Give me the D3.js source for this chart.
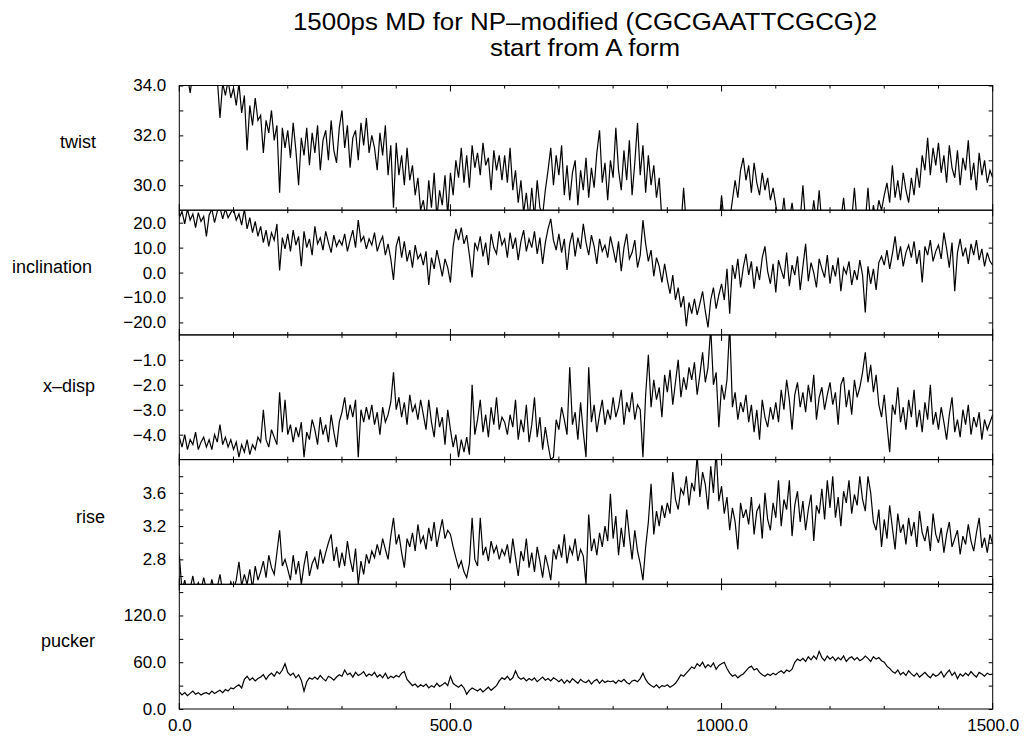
<!DOCTYPE html>
<html>
<head>
<meta charset="utf-8">
<script src="https://cdn.jsdelivr.net/npm/d3@7"></script>
<style>
  body { margin: 0; background: #fff; }
  text { font-family: "Liberation Sans", Arial, Helvetica, sans-serif; fill: #000; }
</style>
</head>
<body>
<div id="wrapper"></div>
<script>
// time axis: one sample every 5 ps, 0 .. 1500
const timeStep = 5
const xTicksLabelled = [0, 500, 1000, 1500]

const twist = [
  34.6,34.5,34.7,34.4,33.7,34.5,34.6,34.5,34.7,34.6,
  34.5,34.6,34.4,34.5,34.3,32.7,34.1,33.6,34.2,33.5,
  33.9,33.2,34.1,32.9,33.6,31.4,33.2,32.4,33.5,32.6,
  32.8,31.3,32.6,32.1,33.0,31.8,32.4,29.7,32.3,31.5,
  32.2,31.1,32.5,31.4,30.0,31.9,31.2,32.3,30.8,32.1,
  31.3,32.4,30.6,31.8,32.2,31.0,32.6,31.4,30.9,32.3,
  33.0,31.5,32.4,30.7,31.9,32.2,31.0,32.5,31.6,32.7,
  31.3,32.0,31.5,30.6,32.1,31.2,32.4,30.4,31.6,29.1,
  31.7,30.4,31.2,30.0,31.5,30.2,30.8,29.6,30.3,29.0,
  29.4,28.6,30.2,29.1,30.5,28.7,29.8,29.2,30.4,28.8,
  30.5,29.6,31.0,30.3,31.5,30.1,31.2,29.9,31.6,30.7,
  31.3,30.4,31.7,30.8,31.1,29.8,31.4,30.6,31.2,30.2,
  31.2,30.1,31.5,29.8,30.6,29.3,30.2,28.9,29.7,28.6,
  29.9,28.7,30.2,29.1,28.8,29.8,30.6,31.5,30.0,31.2,
  30.4,31.6,29.6,30.8,29.4,30.5,31.0,29.2,30.6,29.8,
  31.1,29.5,30.7,29.9,31.3,32.2,30.1,30.9,29.4,31.0,
  30.3,32.3,30.6,29.8,31.4,30.2,31.8,29.6,30.9,32.5,
  30.4,31.6,29.7,31.2,30.0,30.8,29.5,30.3,28.6,28.4,
  28.5,28.3,28.6,28.4,28.5,28.3,29.9,28.4,28.5,28.3,
  28.4,28.5,28.3,28.6,28.4,28.3,28.5,28.4,28.6,28.3,
  29.6,28.5,28.4,28.6,29.4,30.2,29.5,30.6,31.1,30.2,
  30.8,29.7,30.9,30.1,29.6,30.5,29.8,30.3,29.4,29.9,
  29.2,28.6,28.5,29.5,28.4,28.6,29.3,28.5,28.4,28.6,
  30.0,28.5,28.6,28.4,29.4,28.5,29.8,28.4,28.6,28.5,
  28.4,28.6,28.5,28.4,28.6,29.5,28.4,28.5,28.6,29.9,
  28.5,28.4,28.6,28.5,29.9,28.4,29.2,28.6,29.4,29.0,
  29.6,30.1,29.3,30.8,29.5,30.2,29.4,30.5,29.8,29.3,
  30.3,29.6,30.7,29.9,31.2,30.6,31.9,30.4,31.5,30.8,
  31.7,30.5,31.2,30.1,31.6,30.7,30.3,31.4,30.0,31.1,
  30.6,31.8,30.2,30.9,29.8,31.3,30.4,31.0,30.1,30.6,
  30.3
]

const inclination = [
  22.0,24.5,19.5,25.5,21.0,23.5,18.0,24.0,20.5,22.5,
  14.5,23.0,25.5,20.0,24.5,26.0,21.5,25.5,22.0,24.0,
  25.5,21.0,23.5,19.0,25.5,17.5,22.0,16.0,20.5,14.5,
  18.5,12.0,17.0,10.5,16.0,13.0,19.5,0.8,14.0,9.5,
  15.5,8.5,17.0,11.0,14.5,2.5,16.5,10.0,13.5,7.0,
  18.5,11.5,14.0,9.0,16.5,12.0,8.0,15.0,10.5,13.0,
  11.0,15.5,8.5,13.0,17.0,10.0,21.0,12.5,14.5,9.5,
  13.5,11.0,16.0,8.5,12.0,14.5,7.0,11.5,5.5,-3.0,
  10.5,14.5,6.0,12.5,4.5,9.0,2.0,11.0,5.5,7.5,
  3.0,8.5,-5.0,6.0,1.5,9.0,4.0,-1.5,5.5,2.0,
  -4.0,10.5,17.5,13.0,18.0,11.5,15.0,7.0,-2.0,12.0,
  9.0,14.5,6.5,12.0,3.0,15.5,10.0,7.5,16.5,11.0,
  13.5,6.0,16.0,9.5,14.0,5.0,12.5,17.0,8.5,13.5,
  10.0,16.5,7.5,14.0,3.5,12.0,17.5,21.5,13.0,9.0,
  15.5,8.0,13.5,1.0,11.5,16.0,6.5,14.0,9.5,19.5,
  12.0,7.0,15.0,10.5,3.5,13.5,8.5,11.0,6.0,14.5,
  9.5,4.0,12.5,0.5,10.0,15.5,5.5,8.0,13.0,2.0,
  7.0,21.0,11.5,4.5,9.0,-1.5,6.0,2.5,-4.0,3.5,
  -3.0,-8.5,-1.0,-11.0,-6.0,-14.0,-9.5,-21.5,-12.0,-16.5,
  -10.5,-17.0,-12.5,-7.5,-15.5,-22.0,-11.0,-6.0,-14.5,-9.0,
  -4.5,-11.0,1.5,-16.5,3.0,-2.5,5.5,-6.0,2.0,7.5,
  -1.0,4.5,-6.5,2.5,-3.0,6.0,10.5,0.5,-4.5,3.5,
  -8.0,5.0,1.0,-2.5,8.0,-5.5,3.0,-1.0,6.5,-7.0,
  2.5,11.5,-3.5,4.0,0.0,-6.0,5.5,1.5,-2.0,7.0,
  -4.5,3.0,-1.5,6.0,-7.5,2.0,-0.5,4.5,-5.0,1.0,
  -3.0,5.0,-1.0,-16.0,2.5,-4.5,1.5,-7.0,4.0,6.5,
  3.0,9.0,1.5,7.5,14.5,5.0,10.5,2.5,8.0,11.0,
  6.0,12.5,3.5,9.0,-4.0,10.5,7.0,13.0,4.5,8.5,
  11.0,5.5,16.0,9.5,2.0,12.0,-7.5,8.0,13.5,6.5,
  10.0,3.5,11.5,7.0,13.0,5.0,9.5,2.5,8.0,4.5,
  3.0
]

const xDisp = [
  -4.1,-4.5,-4.0,-4.6,-4.2,-4.4,-3.9,-4.6,-4.3,-4.1,
  -4.5,-4.2,-4.6,-4.0,-4.3,-3.6,-4.4,-4.1,-4.5,-4.2,
  -4.6,-4.3,-4.9,-4.4,-4.7,-4.2,-4.8,-4.4,-4.6,-4.1,
  -4.3,-3.0,-4.2,-4.5,-3.8,-4.1,-4.4,-2.3,-3.9,-2.6,
  -4.0,-3.6,-4.3,-3.7,-4.1,-3.5,-4.9,-3.9,-4.2,-3.4,
  -3.8,-4.4,-3.3,-4.0,-3.6,-4.3,-3.2,-3.9,-4.5,-3.5,
  -3.1,-2.5,-3.4,-2.8,-3.3,-2.6,-4.9,-3.0,-3.5,-2.9,
  -3.4,-2.8,-3.6,-3.1,-4.0,-2.9,-3.5,-3.2,-2.7,-1.5,
  -3.0,-2.5,-3.3,-2.7,-3.6,-2.4,-3.1,-2.8,-3.4,-2.6,
  -3.2,-3.8,-2.6,-3.5,-4.1,-2.9,-3.7,-3.3,-4.4,-3.0,
  -3.8,-4.5,-4.0,-4.9,-4.2,-4.7,-4.1,-4.8,-2.0,-4.0,
  -3.4,-2.6,-3.9,-3.2,-4.1,-2.9,-3.6,-2.5,-3.8,-3.3,
  -3.5,-4.0,-3.2,-3.7,-2.6,-4.2,-3.4,-3.9,-2.8,-4.3,
  -3.6,-2.5,-4.1,-3.3,-4.6,-3.7,-4.4,-5.0,-4.9,-3.4,
  -3.8,-2.9,-3.4,-4.0,-1.3,-3.6,-3.1,-4.2,-2.7,-3.9,
  -4.9,-1.3,-3.5,-2.8,-3.9,-3.2,-2.6,-3.6,-3.0,-3.4,
  -2.5,-3.3,-2.9,-2.2,-3.6,-2.7,-3.1,-2.3,-3.4,-2.8,
  -3.0,-4.9,-2.4,-0.8,-2.9,-1.8,-2.6,-2.1,-3.3,-1.6,
  -2.3,-1.4,-2.8,-1.9,-1.0,-2.5,-1.7,-2.2,-1.3,-1.8,
  -1.1,-2.4,-1.6,-0.7,-1.9,-1.3,0.3,-2.0,-1.5,-3.7,
  -2.0,-2.6,-1.8,0.4,-2.9,-2.3,-3.4,-2.7,-3.1,-2.4,
  -3.5,-2.8,-3.9,-3.0,-4.2,-2.6,-3.3,-3.7,-2.9,-3.4,
  -2.7,-3.5,-2.2,-3.0,-1.8,-2.6,-3.8,-2.4,-1.9,-2.9,
  -2.3,-3.1,-2.0,-2.7,-1.6,-3.4,-2.5,-2.1,-3.0,-2.4,
  -1.9,-2.8,-2.3,-3.6,-2.0,-1.7,-2.9,-2.2,-3.2,-1.8,
  -2.5,-2.1,-1.5,-0.7,-1.9,-1.2,-2.3,-1.6,-2.8,-3.3,
  -2.4,-3.6,-4.7,-2.8,-3.2,-2.1,-3.5,-2.9,-3.8,-2.6,
  -3.3,-2.2,-3.7,-3.0,-3.9,-2.7,-3.4,-2.0,-3.6,-3.1,
  -3.8,-2.9,-3.5,-4.2,-3.2,-2.5,-3.9,-3.4,-4.1,-3.0,
  -3.6,-2.8,-4.0,-3.3,-3.7,-3.1,-4.2,-3.4,-3.8,-3.5,
  -3.2
]

const rise = [
  2.85,2.42,2.55,2.40,2.45,2.60,2.41,2.52,2.43,2.58,
  2.44,2.40,2.56,2.42,2.46,2.62,2.41,2.45,2.40,2.53,
  2.43,2.55,2.77,2.48,2.62,2.50,2.68,2.45,2.72,2.55,
  2.65,2.78,2.58,2.85,2.70,2.62,2.88,3.15,2.72,2.80,
  2.68,2.55,2.85,2.62,2.78,2.50,2.73,2.90,2.60,2.75,
  2.82,2.68,2.92,2.75,2.88,3.00,3.10,2.78,2.95,2.70,
  2.88,2.72,3.02,2.80,2.65,2.93,2.50,2.78,2.62,2.86,
  2.75,2.90,2.82,2.98,2.85,3.05,2.92,2.80,3.08,3.30,
  2.98,3.10,2.88,2.70,3.05,2.95,3.12,2.90,3.22,3.00,
  3.08,2.92,3.18,3.02,3.25,2.95,3.12,3.28,3.05,3.15,
  3.10,2.95,2.82,2.70,2.78,2.65,2.58,2.75,3.30,2.80,
  2.72,3.30,2.85,2.95,2.78,3.02,2.88,2.96,2.80,2.92,
  2.85,2.98,2.75,3.05,2.82,2.60,2.90,2.78,3.05,2.70,
  2.88,2.65,2.95,2.78,2.58,2.85,2.72,2.55,2.92,2.80,
  2.98,2.82,3.10,2.75,2.95,2.86,3.05,2.78,2.92,2.84,
  2.50,3.34,2.90,3.05,2.85,3.12,2.95,3.20,3.02,3.59,
  3.05,3.32,2.85,3.18,2.95,3.40,3.08,2.80,3.15,2.90,
  2.75,2.55,2.95,3.25,3.71,3.10,3.38,3.20,3.45,3.30,
  3.48,3.35,3.85,3.52,3.40,3.65,3.58,3.80,3.45,3.72,
  3.62,4.05,3.55,3.85,3.70,3.40,3.92,3.60,4.10,3.50,
  3.68,3.35,3.55,3.15,3.42,3.25,2.92,3.48,3.30,3.40,
  3.22,3.55,3.10,3.38,3.45,3.05,3.60,3.28,3.15,3.48,
  3.30,3.75,3.20,3.52,3.40,3.75,3.08,3.45,3.62,3.25,
  3.50,3.15,3.40,3.58,3.02,3.45,3.35,3.65,3.28,3.75,
  3.42,3.80,3.30,3.55,3.20,3.62,3.48,3.75,3.35,3.58,
  3.45,3.80,3.52,3.38,3.80,3.60,3.25,3.15,3.40,2.95,
  3.28,3.05,3.45,3.18,2.92,3.35,3.12,3.22,2.98,3.30,
  3.08,3.25,2.95,3.38,3.12,3.02,3.20,2.90,3.35,3.10,
  3.00,3.18,2.88,3.10,3.25,2.95,3.05,3.15,2.86,3.08,
  2.98,3.22,3.02,2.90,3.12,3.30,2.94,3.06,2.88,3.10,
  2.98
]

const pucker = [
  22,18,21,17,20,23,19,21,18,20,
  21,19,23,20,22,24,21,25,23,27,
  26,29,31,27,38,42,37,40,36,39,
  41,44,38,43,46,42,48,45,50,58,
  47,43,46,40,44,37,23,35,40,38,
  41,38,43,39,36,42,40,37,41,44,
  42,50,44,46,41,47,43,45,48,42,
  45,43,47,41,44,40,46,39,42,40,
  43,41,46,48,38,34,30,32,28,31,
  29,32,27,30,28,33,29,31,34,30,
  42,33,30,28,31,27,19,24,27,25,
  23,26,22,25,28,24,27,30,36,40,
  38,42,37,40,49,41,38,40,36,39,
  37,40,35,38,41,37,39,36,40,38,
  35,38,33,37,34,39,36,33,38,35,
  34,37,32,36,38,33,37,34,36,35,
  36,33,37,35,38,34,32,36,37,35,
  39,46,38,33,30,28,31,27,30,29,
  31,28,30,33,38,44,42,46,50,54,
  52,58,55,60,53,57,54,59,51,56,
  58,60,52,46,42,44,40,43,45,49,
  53,55,50,52,47,44,42,45,43,46,
  44,47,49,46,50,48,51,60,64,62,
  65,61,67,63,68,64,74,66,62,68,
  64,67,62,66,63,68,61,65,67,63,
  66,62,64,68,65,61,67,64,66,62,
  60,55,52,48,46,50,44,47,43,49,
  45,42,46,41,44,47,43,40,45,42,
  44,48,41,46,50,43,47,39,45,42,
  46,43,48,44,41,47,45,42,46,44,
  45
]

// y domains and tick values per panel
const twistDomain = [29, 34]
const twistTicks = [30, 32, 34]
const twistMinor = [31, 33]
const inclinationDomain = [-25, 25]
const inclinationTicks = [-20, -10, 0, 10, 20]
const xDispDomain = [-5, 0]
const xDispTicks = [-4, -3, -2, -1]
const riseDomain = [2.5, 4.0]
const riseTicks = [2.8, 3.2, 3.6]
const riseMinor = [2.6, 3.0, 3.4, 3.8]
const puckerDomain = [0, 160]
const puckerTicks = [0, 60, 120]
const puckerMinor = [30, 90, 150]

const titleLines = ["1500ps MD for NP\u2013modified (CGCGAATTCGCG)2", "start from A form"]

function drawChart() {
  // 1. panels
  const panels = [
    { name: "twist", values: twist, domain: twistDomain, ticks: twistTicks, minor: twistMinor, labelX: 60, labelDy: 56 },
    { name: "inclination", values: inclination, domain: inclinationDomain, ticks: inclinationTicks, minor: [], labelX: 12, labelDy: 57 },
    { name: "x\u2013disp", values: xDisp, domain: xDispDomain, ticks: xDispTicks, minor: [], labelX: 43, labelDy: 51 },
    { name: "rise", values: rise, domain: riseDomain, ticks: riseTicks, minor: riseMinor, labelX: 76, labelDy: 57 },
    { name: "pucker", values: pucker, domain: puckerDomain, ticks: puckerTicks, minor: puckerMinor, labelX: 41, labelDy: 57 },
  ]

  // 2. dimensions
  let dimensions = {
    width: 1026,
    height: 736,
    left: 179.3,
    right: 992.7,
    top: 85.5,
    panelHeight: 124.7,
  }
  const bottom = dimensions.top + dimensions.panelHeight * panels.length

  // 3. canvas
  const wrapper = d3.select("#wrapper")
    .append("svg")
      .attr("width", dimensions.width)
      .attr("height", dimensions.height)

  // title, slightly wide like the original print
  wrapper.selectAll(".title")
    .data(titleLines)
    .join("text")
      .attr("class", "title")
      .attr("transform", (d, i) => `translate(585,${i === 0 ? 30 : 56}) scale(1.08,1)`)
      .attr("text-anchor", "middle")
      .style("font-size", "24px")
      .text(d => d)

  const xScale = d3.scaleLinear()
    .domain([0, 1500])
    .range([dimensions.left, dimensions.right])

  const fmt = d3.format(".1f")

  panels.forEach((p, i) => {
    const top = dimensions.top + i * dimensions.panelHeight
    const yScale = d3.scaleLinear()
      .domain(p.domain)
      .range([top + dimensions.panelHeight, top])

    const clipId = "clip-" + i
    wrapper.append("clipPath")
        .attr("id", clipId)
      .append("rect")
        .attr("x", dimensions.left)
        .attr("y", top)
        .attr("width", dimensions.right - dimensions.left)
        .attr("height", dimensions.panelHeight)

    const lineGenerator = d3.line()
      .x((d, j) => xScale(j * timeStep))
      .y(d => yScale(d))

    wrapper.append("path")
        .datum(p.values)
        .attr("clip-path", `url(#${clipId})`)
        .attr("d", lineGenerator)
        .attr("fill", "none")
        .attr("stroke", "#000")
        .attr("stroke-width", 1.2)
        .attr("stroke-linejoin", "miter")

    // left axis with labels, ticks inward
    const leftAxis = wrapper.append("g")
        .attr("transform", `translate(${dimensions.left},0)`)
        .call(d3.axisLeft(yScale).tickValues(p.ticks).tickSize(-4).tickPadding(13).tickFormat(fmt))
    wrapper.append("g")
        .attr("transform", `translate(${dimensions.left},0)`)
        .call(d3.axisLeft(yScale).tickValues(p.minor).tickSize(-4).tickFormat(""))
    wrapper.append("g")
        .attr("transform", `translate(${dimensions.right},0)`)
        .call(d3.axisRight(yScale).tickValues(p.ticks.concat(p.minor)).tickSize(-4).tickFormat(""))

    leftAxis.selectAll("text")
        .style("font-size", "17px")
        .style("font-family", '"Liberation Sans", Arial, sans-serif')

    wrapper.append("text")
        .attr("x", p.labelX)
        .attr("y", top + p.labelDy)
        .attr("dominant-baseline", "central")
        .style("font-size", "18px")
        .text(p.name)
  })

  wrapper.selectAll(".domain").remove()
  wrapper.selectAll(".tick line").attr("stroke", "#000")

  // panel frames
  panels.forEach((p, i) => {
    wrapper.append("rect")
        .attr("x", dimensions.left)
        .attr("y", dimensions.top + i * dimensions.panelHeight)
        .attr("width", dimensions.right - dimensions.left)
        .attr("height", dimensions.panelHeight)
        .attr("fill", "none")
        .attr("stroke", "#000")
        .attr("stroke-width", 1)
  })

  // time ticks on every panel border
  const timeTicks = d3.range(0, 1501, 100)
  d3.range(panels.length + 1).forEach(k => {
    const y = dimensions.top + k * dimensions.panelHeight
    const up = k === 0 ? 0 : 1
    const down = k === panels.length ? 0 : 1
    wrapper.append("g")
      .selectAll("line")
      .data(timeTicks)
      .join("line")
        .attr("x1", d => xScale(d))
        .attr("x2", d => xScale(d))
        .attr("y1", d => y - up * (d % 500 === 0 ? 6 : 3))
        .attr("y2", d => y + down * (d % 500 === 0 ? 6 : 3))
        .attr("stroke", "#000")
        .attr("stroke-width", 1)
  })

  // bottom labels
  const xAxis = wrapper.append("g")
      .attr("transform", `translate(0,${bottom})`)
      .call(d3.axisBottom(xScale).tickValues(xTicksLabelled).tickSize(0).tickPadding(10).tickFormat(fmt))
  xAxis.select(".domain").remove()
  xAxis.selectAll("text")
      .style("font-size", "17px")
      .style("font-family", '"Liberation Sans", Arial, sans-serif')
}

drawChart()
</script>
</body>
</html>
